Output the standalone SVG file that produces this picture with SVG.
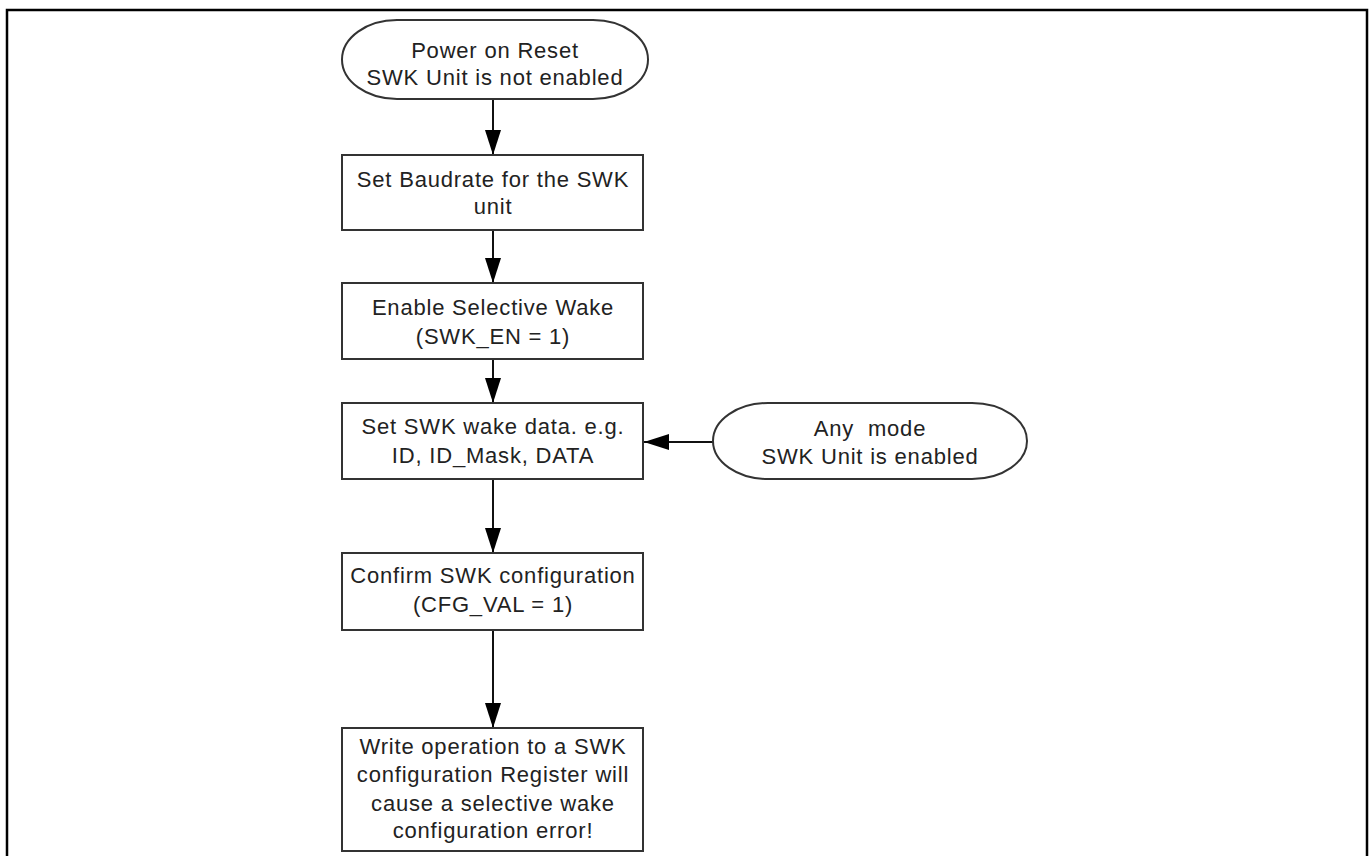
<svg xmlns="http://www.w3.org/2000/svg" width="1371" height="856" viewBox="0 0 1371 856">
<style>
.frame{fill:none;stroke:#000;stroke-width:2.5}
.shape{fill:#fff;stroke:#333;stroke-width:2}
.t{font-family:"Liberation Sans",Arial,sans-serif;font-size:22px;letter-spacing:0.8px;fill:#222;text-anchor:middle;white-space:pre}
.conn line{stroke:#111;stroke-width:2;marker-end:url(#ah)}
</style>
<defs>
<marker id="ah" viewBox="0 0 25 16" refX="25" refY="8" markerWidth="25" markerHeight="16" orient="auto" markerUnits="userSpaceOnUse">
<path d="M0,0 L25,8 L0,16 z" fill="#000"/>
</marker>
</defs>
<rect width="1371" height="856" fill="#fff"/>
<rect class="frame" x="7" y="10" width="1360" height="860"/>
<g class="conn" id="connectors">
<line x1="493" y1="99" x2="493" y2="155"/>
<line x1="493" y1="230" x2="493" y2="283"/>
<line x1="493" y1="359" x2="493" y2="403"/>
<line x1="713" y1="442" x2="644" y2="442"/>
<line x1="493" y1="479" x2="493" y2="553"/>
<line x1="493" y1="630" x2="493" y2="728"/>
</g>
<g id="start">
<rect class="shape" x="342" y="20" width="306" height="79" rx="55" ry="39.5"/>
<text class="t" x="495" y="58">Power on Reset</text>
<text class="t" x="495" y="85">SWK Unit is not enabled</text>
</g>
<g id="baudrate">
<rect class="shape" x="342" y="155" width="301" height="75"/>
<text class="t" x="493" y="187">Set Baudrate for the SWK</text>
<text class="t" x="493" y="214">unit</text>
</g>
<g id="enable">
<rect class="shape" x="342" y="283" width="301" height="76"/>
<text class="t" x="493" y="315">Enable Selective Wake</text>
<text class="t" x="493" y="344">(SWK_EN = 1)</text>
</g>
<g id="wakedata">
<rect class="shape" x="342" y="403" width="301" height="76"/>
<text class="t" x="493" y="434">Set SWK wake data. e.g.</text>
<text class="t" x="493" y="463">ID, ID_Mask, DATA</text>
</g>
<g id="anymode">
<rect class="shape" x="713" y="403" width="314" height="76" rx="55" ry="38"/>
<text class="t" x="870" y="436">Any  mode</text>
<text class="t" x="870" y="464">SWK Unit is enabled</text>
</g>
<g id="confirm">
<rect class="shape" x="342" y="553" width="301" height="77"/>
<text class="t" x="493" y="583">Confirm SWK configuration</text>
<text class="t" x="493" y="612">(CFG_VAL = 1)</text>
</g>
<g id="error">
<rect class="shape" x="342" y="728" width="301" height="123"/>
<text class="t" x="493" y="754">Write operation to a SWK</text>
<text class="t" x="493" y="782">configuration Register will</text>
<text class="t" x="493" y="811">cause a selective wake</text>
<text class="t" x="493" y="838">configuration error!</text>
</g>
</svg>
